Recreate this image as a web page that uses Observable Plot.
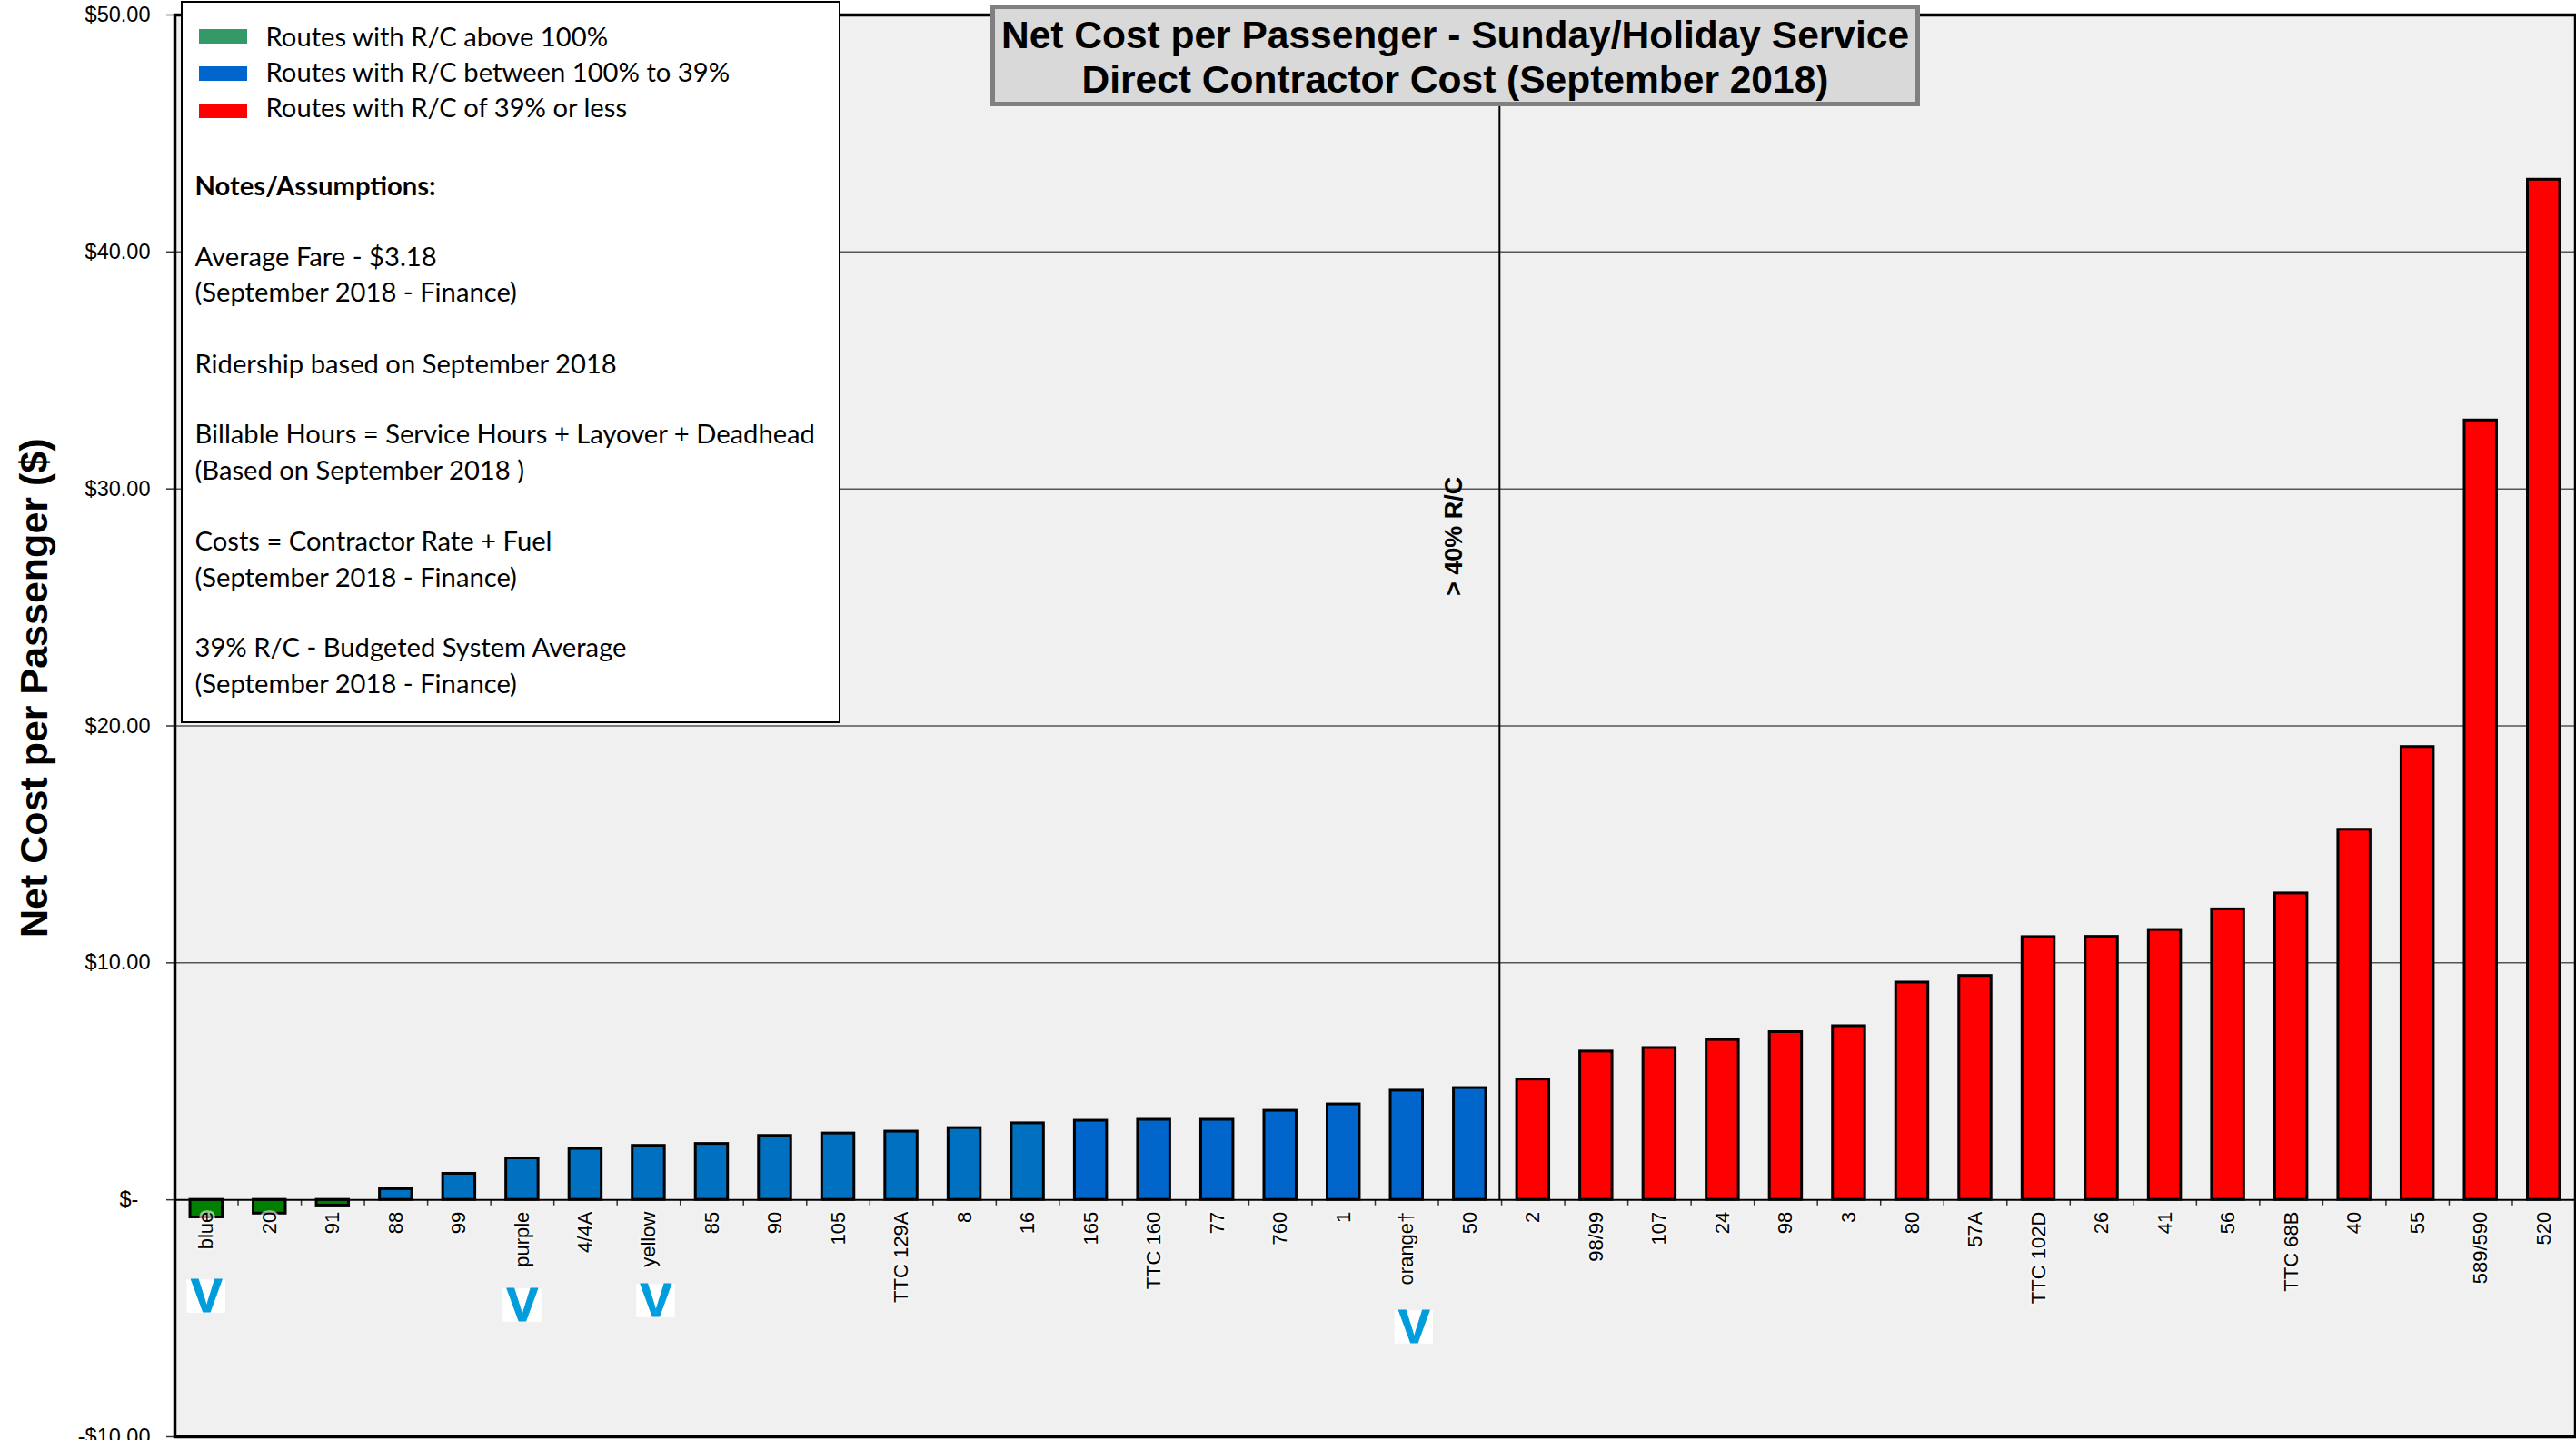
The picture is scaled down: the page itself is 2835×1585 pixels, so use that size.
<!DOCTYPE html>
<html><head><meta charset="utf-8">
<script src="https://cdn.jsdelivr.net/npm/d3@7"></script>
<script src="https://cdn.jsdelivr.net/npm/@observablehq/plot@0.6"></script>
<style>
html,body{margin:0;padding:0;background:#fff;overflow:hidden}
#wrap{position:relative;width:2835px;height:1585px}
svg{display:block}
#legend{position:absolute;left:199px;top:1px;width:722px;height:791px;background:#fff;border:2.5px solid #000;box-sizing:content-box;font-family:Lato,sans-serif;font-size:29.2px;color:#000}
.ln{position:absolute;white-space:nowrap;line-height:39px}
.sw{position:absolute;width:53px;height:16px}
#title{position:absolute;left:1090px;top:5px;width:1013px;height:98px;background:#d9d9d9;border:5px solid #808080;font:bold 42.5px/49px "Liberation Sans",sans-serif;text-align:center;padding-top:4px;color:#000;white-space:nowrap}
</style></head><body><div id="wrap"></div>
<script>
const routes=["blue","20","91","88","99","purple","4/4A","yellow","85","90","105","TTC 129A","8","16","165","TTC 160","77","760","1","orange†","50","2","98/99","107","24","98","3","80","57A","TTC 102D","26","41","56","TTC 68B","40","55","589/590","520"];
const costs=[-0.74,-0.58,-0.24,0.45,1.1,1.75,2.15,2.28,2.36,2.7,2.8,2.88,3.03,3.23,3.34,3.38,3.38,3.76,4.03,4.61,4.72,5.08,6.26,6.41,6.75,7.08,7.33,9.17,9.45,11.09,11.1,11.39,12.26,12.93,15.62,19.11,32.89,43.05];
const barColors=[...Array(3).fill("#008000"),...Array(11).fill("#0070C0"),...Array(7).fill("#0066CC"),...Array(17).fill("#FF0000")];
const yTicks=[-10,0,10,20,30,40,50];
const gridValues=[10,20,30,40];
const iconRoutes=["blue","purple","yellow","orange†"];
const iconLevels=[-4.08,-4.46,-4.27,-5.38];
const iconShift=[0,0,8,8];
const legendItems=[["Routes with R/C above 100%","#339966"],["Routes with R/C between 100% to 39%","#0066CC"],["Routes with R/C of 39% or less","#FF0000"]];
const noteLines=[["Notes/Assumptions:",204,true],["Average Fare - $3.18",282],["(September 2018 - Finance)",321],["Ridership based on September 2018",400],["Billable Hours = Service Hours + Layover + Deadhead",477],["(Based on September 2018 )",517],["Costs = Contractor Rate + Fuel",595],["(September 2018 - Finance)",635],["39% R/C - Budgeted System Average",712],["(September 2018 - Finance)",752]];
const titleLines=["Net Cost per Passenger - Sunday/Holiday Service","Direct Contractor Cost (September 2018)"];

const data=routes.map((route,i)=>({route,cost:costs[i],color:barColors[i]}));
const money=v=>v===0?"$-\u00a0\u00a0":(v<0?"-$":"$")+Math.abs(v).toFixed(2);
const font='"Liberation Sans",Arial,sans-serif';
const icons=iconRoutes.flatMap((r,i)=>{
  const d=[{route:r,lvl:iconLevels[i]}];
  return [
    Plot.barY(d,{x:"route",y1:d=>d.lvl-0.7,y2:d=>d.lvl+0.7,fill:"white",insetLeft:-3.5,insetRight:-3.5,dx:iconShift[i]}),
    Plot.text(d,{x:"route",y:"lvl",text:()=>"V",fontSize:52,fontWeight:"bold",fontFamily:font,fill:"#009DDC",stroke:"#009DDC",strokeWidth:1,dx:iconShift[i]})
  ];
});
const chart=Plot.plot({
  width:2835,height:1585,marginLeft:192,marginRight:1,marginTop:16,marginBottom:4,
  style:{fontFamily:font,background:"white",color:"black"},
  x:{domain:routes,paddingInner:0.49,paddingOuter:0.245,align:0.5,round:false,axis:null},
  y:{domain:[-10,50],axis:null},
  marks:[
    Plot.frame({fill:"#f0f0f0",stroke:null}),
    Plot.ruleY(gridValues,{stroke:"#555",strokeWidth:1.5}),
    Plot.ruleX(["2"],{y1:0,y2:50,stroke:"#000",strokeWidth:2,dx:-37}),
    Plot.barY(data,{x:"route",y:"cost",fill:"color",stroke:"#000",strokeWidth:3}),
    Plot.ruleX(routes,{x:d=>d,y1:0,y2:-0.25,stroke:"#333",strokeWidth:1.5,dx:-34.76}),
    Plot.ruleY([0],{stroke:"#000",strokeWidth:2}),
    Plot.axisY({ticks:yTicks,tickFormat:money,tickSize:9,tickPadding:18,fontSize:23.5,stroke:"#333",strokeWidth:1.5,label:null,fill:"#000"}),
    Plot.text(data,{x:"route",y:()=>0,text:"route",rotate:-90,textAnchor:"end",dy:13,fontSize:22,fill:"#000",stroke:"#f9f9f9",strokeWidth:5,strokeOpacity:0.6}),
    ...icons,
    Plot.text(["> 40% R/C"],{x:()=>"50",y:()=>28,text:d=>d,rotate:-90,dx:-17,fontSize:27,fontWeight:"bold",fill:"#000"}),
    Plot.text(["Net Cost per Passenger ($)"],{frameAnchor:"left",y:()=>21.6,text:d=>d,textAnchor:"middle",rotate:-90,dx:-154,fontSize:43,fontWeight:"bold",fill:"#000"}),
    Plot.frame({stroke:"#000",strokeWidth:3.5})
  ]
});
const wrap=document.getElementById("wrap");
wrap.append(chart);
const legend=document.createElement("div");legend.id="legend";
const ox=201.5,oy=3.5;
legendItems.forEach(([t,c],i)=>{
  const s=document.createElement("div");s.className="sw";s.style.cssText=`left:${219-ox}px;top:${32+41*i-oy}px;background:${c}`;legend.append(s);
  const l=document.createElement("div");l.className="ln";l.textContent=t;l.style.cssText=`left:${293-ox}px;top:${20.5+39*i-oy}px`;legend.append(l);
});
noteLines.forEach(([t,y,b])=>{
  const l=document.createElement("div");l.className="ln";l.textContent=t;l.style.cssText=`left:${215-ox}px;top:${y-19.5-oy}px;${b?"font-weight:bold":""}`;legend.append(l);
});
wrap.append(legend);
const title=document.createElement("div");title.id="title";
titleLines.forEach(t=>{const d=document.createElement("div");d.textContent=t;title.append(d)});
wrap.append(title);
</script></body></html>
